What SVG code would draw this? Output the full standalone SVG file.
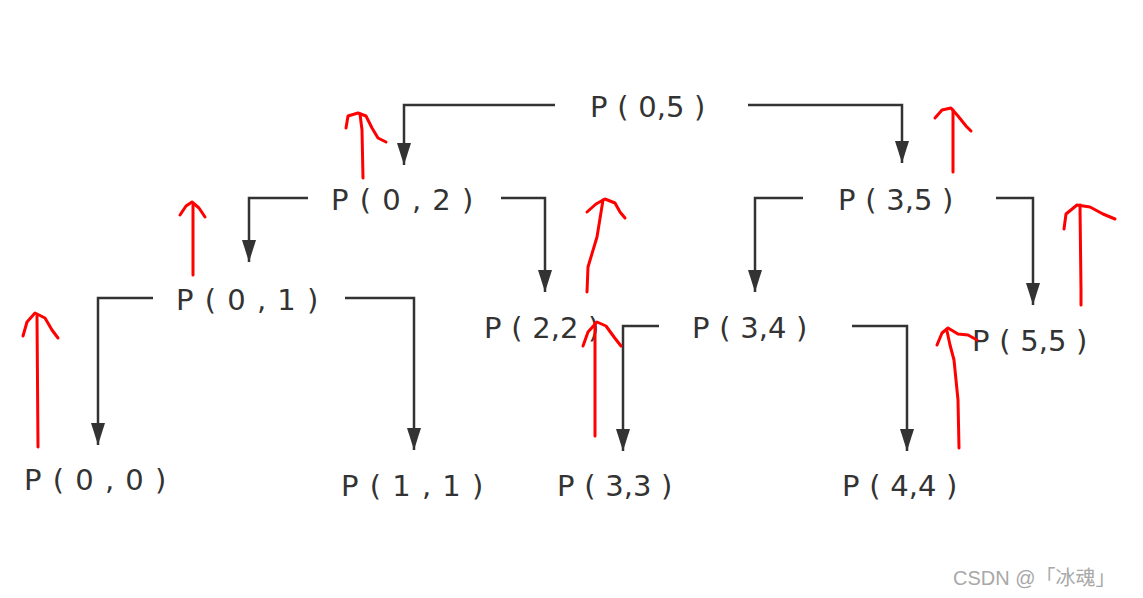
<svg xmlns="http://www.w3.org/2000/svg" width="1143" height="598" viewBox="0 0 1143 598">
<style>
.lbl{font-family:"DejaVu Sans","Liberation Sans",sans-serif;font-size:29px;fill:#333;word-spacing:0.5px;}
.sp{word-spacing:2px;}
.con{fill:none;stroke:#333;stroke-width:2.5;marker-end:url(#ah);}
.red{fill:none;stroke:#f00;stroke-width:3;stroke-linecap:round;stroke-linejoin:round;}
.wm{font-family:"Liberation Sans","Noto Sans CJK SC",sans-serif;font-size:20px;fill:#a8a8a8;}
</style>
<defs>
<marker id="ah" markerUnits="userSpaceOnUse" viewBox="0 0 22 14" refX="22" refY="7" markerWidth="22" markerHeight="14" orient="auto">
<path d="M0,0 L22,7 L0,14 z" fill="#333"/>
</marker>
</defs>
<rect width="1143" height="598" fill="#fff"/>
<g id="connectors">
<path class="con" d="M555,105 H404 V165"/>
<path class="con" d="M748,105 H902 V163"/>
<path class="con" d="M308,198 H249 V262"/>
<path class="con" d="M501,198 H545 V292"/>
<path class="con" d="M803,198 H755 V292"/>
<path class="con" d="M996,198 H1033 V305"/>
<path class="con" d="M153,298 H98 V445"/>
<path class="con" d="M345,298 H414 V450"/>
<path class="con" d="M659,326 H623 V451"/>
<path class="con" d="M852,326 H907 V451"/>
</g>
<g id="node-p05"><text class="lbl" x="590" y="117">P ( 0,5 )</text></g>
<g id="node-p02"><text class="lbl sp" x="331" y="210">P ( 0 , 2 )</text></g>
<g id="node-p35"><text class="lbl" x="838" y="210">P ( 3,5 )</text></g>
<g id="node-p01"><text class="lbl sp" x="176" y="310">P ( 0 , 1 )</text></g>
<g id="node-p22"><text class="lbl" x="484" y="338">P ( 2,2 )</text></g>
<g id="node-p34"><text class="lbl" x="692" y="338">P ( 3,4 )</text></g>
<g id="node-p55"><text class="lbl" x="972" y="351">P ( 5,5 )</text></g>
<g id="node-p00"><text class="lbl sp" x="24" y="490">P ( 0 , 0 )</text></g>
<g id="node-p11"><text class="lbl sp" x="341" y="496">P ( 1 , 1 )</text></g>
<g id="node-p33"><text class="lbl" x="557" y="496">P ( 3,3 )</text></g>
<g id="node-p44"><text class="lbl" x="842" y="496">P ( 4,4 )</text></g>
<g id="annotations">
<path class="red" d="M363,178 L362,130 L360,114"/>
<path class="red" d="M346,128 L348,116 L358,113 L366,116 L372,128 L378,138 L386,142"/>
<path class="red" d="M193,275 L193,204"/>
<path class="red" d="M180,215 L186,206 L192,202 L199,208 L205,217"/>
<path class="red" d="M38,447 L37,316"/>
<path class="red" d="M23,336 L27,322 L35,313 L45,318 L52,330 L58,338"/>
<path class="red" d="M587,292 L588,267 L597,237 L603,200"/>
<path class="red" d="M587,212 L596,204 L605,199 L615,203 L620,212 L625,218"/>
<path class="red" d="M595,436 L595,323"/>
<path class="red" d="M583,346 L588,332 L597,322 L606,326 L614,337 L621,346"/>
<path class="red" d="M953,172 L953,110"/>
<path class="red" d="M935,118 L942,110 L951,108 L958,116 L966,126 L971,131"/>
<path class="red" d="M1081,305 L1081,290 L1080,205"/>
<path class="red" d="M1064,229 L1066,214 L1077,205 L1090,207 L1103,214 L1115,219"/>
<path class="red" d="M959,448 L958,400 L954,360 L950,345 L947,331"/>
<path class="red" d="M937,345 L942,333 L948,328 L958,334 L968,335 L977,340"/>
</g>
<text class="wm" x="953" y="585">CSDN @「冰魂」</text>
</svg>
